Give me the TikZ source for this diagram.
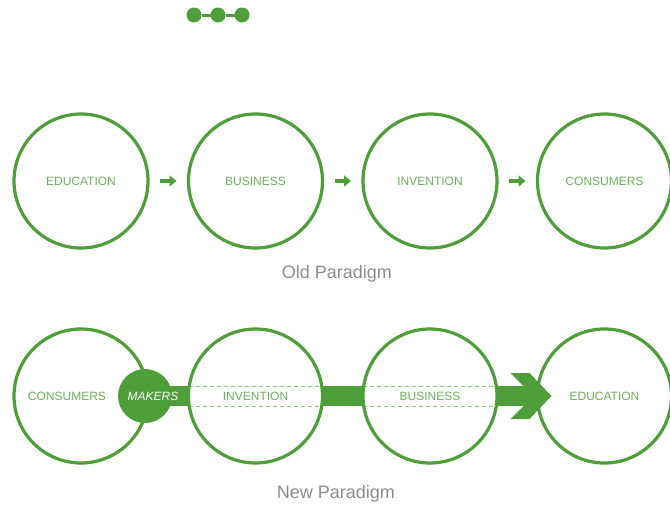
\documentclass[tikz,border=0pt]{standalone}
\usepackage{fontspec}
\setmainfont{Liberation Sans}
\usetikzlibrary{arrows.meta,positioning,calc,backgrounds}
\definecolor{leaf}{HTML}{4E9E3A}
\definecolor{leaftext}{HTML}{6AB058}
\definecolor{leafdash}{HTML}{8CC47E}
\definecolor{greytext}{HTML}{8C8C8C}

\begin{document}
\begin{tikzpicture}[x=1pt,y=-1pt,node distance=81pt and 40.5pt,>=Triangle,
    ring/.style={draw=leaf,line width=3.2pt,circle,minimum size=134pt,inner sep=0pt,outer sep=0pt,text=leaftext,font=\fontsize{12}{14}\selectfont},
    ringtxt/.style={text=leaftext,font=\fontsize{12}{14}\selectfont,inner sep=0pt},
    dot/.style={fill=leaf,circle,minimum size=15pt,inner sep=0pt,outer sep=0pt},
    linkarrow/.style={draw=leaf,line width=3.5pt,-{Triangle[length=7pt,width=11pt]}},
    dashline/.style={draw=leafdash,line width=0.9pt,dash pattern=on 4pt off 3pt},
    paralbl/.style={text=greytext,font=\fontsize{18}{20}\selectfont,inner sep=0pt}]
    \useasboundingbox (0,0) rectangle (670,504);
    % logo
    \node[dot] (d1) at (194,15) {};
    \node[dot,right=9pt of d1] (d2) {};
    \node[dot,right=9pt of d2] (d3) {};
    \draw[leaf,line width=3pt] (d1)--(d2)--(d3);
    % old paradigm
    \node[ring] (edu) at (81,181) {EDUCATION};
    \node[ring,right=of edu] (bus) {BUSINESS};
    \node[ring,right=of bus] (inv) {INVENTION};
    \node[ring,right=of inv] (con) {CONSUMERS};
    \draw[linkarrow] ([xshift=12pt]edu.east)--([xshift=-12pt]bus.west);
    \draw[linkarrow] ([xshift=12pt]bus.east)--([xshift=-12pt]inv.west);
    \draw[linkarrow] ([xshift=12pt]inv.east)--([xshift=-12pt]con.west);
    \node[paralbl] (oldlbl) at (337,274) {Old Paradigm};
    % new paradigm
    \node[ring,below=of edu] (ncon) {};
    \node[ringtxt] (nconlbl) at ([xshift=-14pt]ncon.center) {CONSUMERS};
    \node[ring,right=of ncon] (ninv) {INVENTION};
    \node[ring,right=of ninv] (nbus) {BUSINESS};
    \node[ring,right=of nbus] (nedu) {EDUCATION};
    \node[dot,minimum size=54pt] (makers) at ([xshift=-3pt]ncon.east) {};
    \node[ringtxt,text=white,font=\fontsize{12}{14}\selectfont\itshape] (makerslbl) at ([xshift=8pt]makers.center) {MAKERS};
    \coordinate (tip) at ([xshift=14pt]nedu.west);
    \begin{pgfonlayer}{background}
      \fill[leaf] ([yshift=10pt]makers.center) rectangle ($(tip)+(-12,10)$);
      \fill[leaf] ($(tip)+(-41,-23)$)--($(tip)+(-22,-23)$)--(tip)--($(tip)+(-22,23)$)--($(tip)+(-41,23)$)--($(tip)+(-18,0)$)--cycle;
      \foreach \c in {ninv,nbus}{
        \fill[white] ([yshift=10pt]\c.west) rectangle ([yshift=-10pt]\c.east);
        \draw[dashline] ([yshift=10pt]\c.west)--([yshift=10pt]\c.east);
        \draw[dashline] ([yshift=-10pt]\c.west)--([yshift=-10pt]\c.east);
      }
    \end{pgfonlayer}
    \node[paralbl] (newlbl) at (336,494) {New Paradigm};
  \end{tikzpicture}
\end{document}
